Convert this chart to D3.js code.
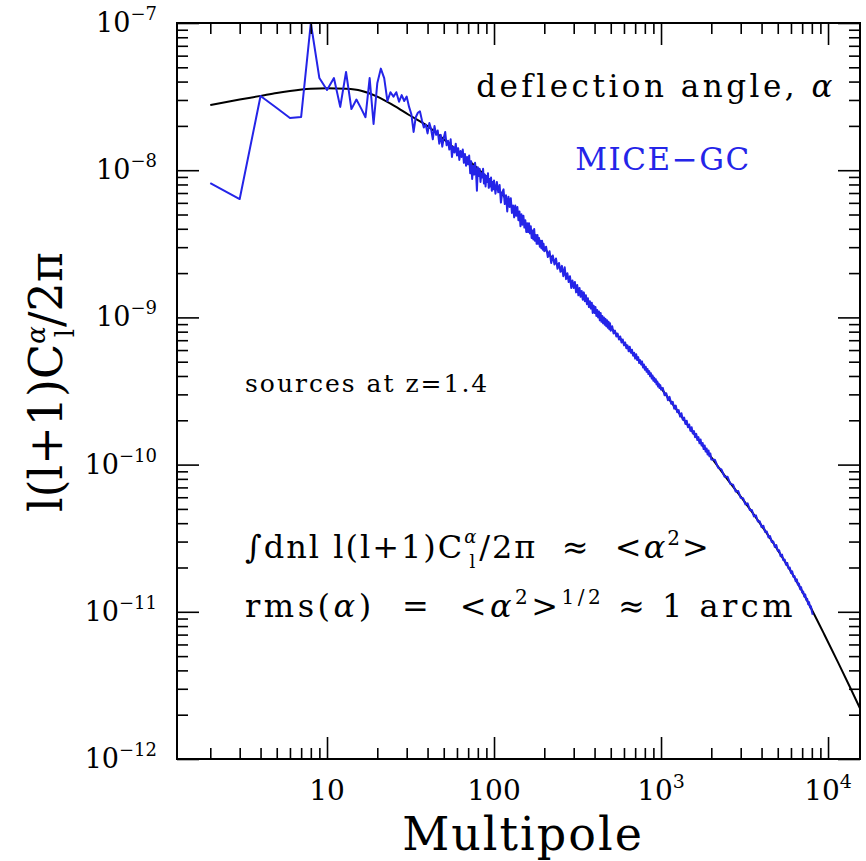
<!DOCTYPE html>
<html lang="en">
<head>
  <meta charset="UTF-8">
  <title>Deflection angle power spectrum</title>
  <script src="https://d3js.org/d3.v7.min.js"></script>
  <style>
    body { margin: 0; background: #fff; }
    svg text { font-family: "DejaVu Serif", serif; fill: #000; white-space: pre; }
    .tick line { stroke: #000; stroke-width: 1.6; }
  </style>
</head>
<body>
<svg id="chart" width="866" height="861"></svg>
<script>
  // theory curve (black), l(l+1)C_l/2pi
  const theoryEll = [2, 3, 4, 5, 6, 8, 10, 13, 16, 20,
    25, 31, 40, 50, 62, 82, 100, 125, 160, 200,
    250, 300, 400, 500, 650, 800, 1000, 1300, 1600, 2000,
    2500, 3200, 4000, 5000, 6000, 7000, 8000, 9500, 11500, 13500, 16000];
  const theoryVal = [2.773e-8, 3.020e-8, 3.199e-8, 3.350e-8, 3.451e-8, 3.573e-8, 3.606e-8, 3.573e-8, 3.467e-8, 3.162e-8,
    2.754e-8, 2.371e-8, 1.995e-8, 1.622e-8, 1.318e-8, 1.0e-8, 7.94e-9, 5.89e-9, 4.07e-9, 2.95e-9,
    2.14e-9, 1.66e-9, 1.12e-9, 8.51e-10, 6.03e-10, 4.57e-10, 3.31e-10, 2.19e-10, 1.585e-10, 1.12e-10,
    7.94e-11, 5.50e-11, 3.846e-11, 2.630e-11, 1.875e-11, 1.377e-11, 1.033e-11, 7.015e-12, 4.519e-12, 3.097e-12, 2.061e-12];

  // MICE-GC measurement (blue), stored as log10 of l(l+1)C_l/2pi
  const ellA = d3.range(2, 101);            // every multipole 2..100
  const miceA = [
    -8.087, -8.196, -7.496, -7.577, -7.645, -7.638, -7.0, -7.374, -7.455,   // 2-10
    -7.374, -7.57, -7.333, -7.585, -7.52, -7.58, -7.64, -7.374, -7.686, -7.41, // 11-20
    -7.31, -7.374, -7.53, -7.47, -7.50, -7.47, -7.535, -7.49, -7.53, -7.50,    // 21-30
    -7.57, -7.62, -7.74, -7.64, -7.61, -7.60, -7.66, -7.71, -7.69, -7.75,      // 31-40
    -7.68, -7.72, -7.79, -7.70, -7.76, -7.73, -7.82, -7.76, -7.84, -7.78,      // 41-50
    -7.74, -7.83, -7.80, -7.86, -7.79, -7.91, -7.84, -7.88, -7.82, -7.90,      // 51-60
    -7.85, -7.93, -7.87, -7.91, -7.86, -7.95, -7.89, -7.97, -7.91, -7.96,      // 61-70
    -7.90, -8.02, -7.94, -8.06, -7.97, -8.03, -7.95, -8.01, -8.14, -7.98,      // 71-80
    -8.04, -7.99, -8.08, -8.02, -8.05, -7.99, -8.09, -8.03, -8.11, -8.04,      // 81-90
    -8.08, -8.02, -8.12, -8.06, -8.11, -8.05, -8.14, -8.08, -8.13, -8.07       // 91-100
  ];
  const ellB = d3.range(102, 201, 2);
  const miceB = [
    -8.16, -8.08, -8.15, -8.10, -8.22, -8.15, -8.13, -8.23, -8.17, -8.28,
    -8.18, -8.25, -8.19, -8.29, -8.24, -8.32, -8.24, -8.31, -8.25, -8.34,
    -8.28, -8.38, -8.30, -8.37, -8.31, -8.39, -8.34, -8.42, -8.36, -8.42,
    -8.36, -8.43, -8.38, -8.46, -8.41, -8.47, -8.40, -8.48, -8.44, -8.50,
    -8.44, -8.50, -8.46, -8.52, -8.48, -8.53, -8.48, -8.54, -8.50, -8.55
  ];
  const ellC = d3.range(205, 501, 5);
  const miceC = [
    -8.52, -8.59, -8.55, -8.63, -8.58, -8.64, -8.60, -8.67, -8.63, -8.69,
    -8.65, -8.72, -8.66, -8.74, -8.70, -8.76, -8.72, -8.80, -8.75, -8.80,
    -8.76, -8.83, -8.78, -8.85, -8.80, -8.86, -8.82, -8.88, -8.83, -8.89,
    -8.85, -8.91, -8.87, -8.93, -8.89, -8.94, -8.90, -8.97, -8.92, -8.97,
    -8.93, -8.99, -8.95, -9.00, -8.96, -9.02, -8.97, -9.03, -8.99, -9.04,
    -9.00, -9.05, -9.01, -9.06, -9.02, -9.07, -9.03, -9.08, -9.04, -9.09
  ];
  const ellD = d3.range(510, 1001, 10);
  const miceD = [
    -9.06, -9.11, -9.09, -9.13, -9.11, -9.15, -9.13, -9.17, -9.15, -9.19,
    -9.17, -9.21, -9.19, -9.23, -9.20, -9.24, -9.22, -9.26, -9.24, -9.28,
    -9.25, -9.29, -9.27, -9.31, -9.29, -9.32, -9.30, -9.34, -9.32, -9.355,
    -9.335, -9.37, -9.35, -9.385, -9.365, -9.40, -9.38, -9.415, -9.395, -9.43,
    -9.41, -9.44, -9.42, -9.455, -9.435, -9.47, -9.45, -9.48, -9.46, -9.49
  ];
  const ellE = d3.range(1025, 2001, 25);
  const miceE = [
    -9.479, -9.529, -9.515, -9.563, -9.540, -9.587, -9.573, -9.620, -9.599, -9.645,
    -9.629, -9.674, -9.651, -9.695, -9.680, -9.724, -9.702, -9.746, -9.727, -9.771,
    -9.746, -9.789, -9.772, -9.814, -9.791, -9.833, -9.813, -9.855, -9.829, -9.871,
    -9.853, -9.894, -9.870, -9.911, -9.890, -9.931, -9.904, -9.944, -9.925, -9.966
  ];
  const ellF = d3.range(2100, 8101, 100);
  const miceF = [
    -9.967, -10.022, -10.032, -10.082, -10.082, -10.131, -10.136, -10.183, -10.180, -10.226,
    -10.228, -10.270, -10.263, -10.308, -10.308, -10.352, -10.345, -10.387, -10.385, -10.425,
    -10.415, -10.457, -10.454, -10.495, -10.486, -10.526, -10.522, -10.559, -10.547, -10.586,
    -10.582, -10.622, -10.611, -10.650, -10.645, -10.681, -10.668, -10.706, -10.699, -10.737,
    -10.725, -10.763, -10.757, -10.793, -10.779, -10.816, -10.809, -10.846, -10.833, -10.869,
    -10.862, -10.897, -10.882, -10.919, -10.911, -10.948, -10.934, -10.970, -10.962, -10.996,
    -11.02
  ];

  const xTickVals = [10, 100, 1000, 10000];
  const xTickBase = ["10", "100", "10", "10"];
  const xTickSup = ["", "", "3", "4"];
  const yTickVals = [1e-7, 1e-8, 1e-9, 1e-10, 1e-11, 1e-12];
  const yTickSup = ["\u22127", "\u22128", "\u22129", "\u221210", "\u221211", "\u221212"];

  const blue = "#2424e8";
  const plot = { left: 177, right: 860, top: 23, bottom: 759 };

  const svg = d3.select("#chart");
  const x = d3.scaleLog().domain([1.264, 15540]).range([plot.left, plot.right]);
  const y = d3.scaleLog().domain([1e-12, 1e-7]).range([plot.bottom, plot.top]);

  function minorTicks(lo, hi) {
    const out = [];
    for (let e = Math.floor(Math.log10(lo)); e <= Math.ceil(Math.log10(hi)); e++) {
      for (let m = 2; m <= 9; m++) {
        const v = m * Math.pow(10, e);
        if (v > lo && v < hi) out.push(v);
      }
    }
    return out;
  }

  svg.append("defs").append("clipPath").attr("id", "clip")
    .append("rect")
    .attr("x", plot.left).attr("y", plot.top)
    .attr("width", plot.right - plot.left).attr("height", plot.bottom - plot.top);

  // curves
  const theory = theoryEll.map((l, i) => ({ l, v: theoryVal[i] }));
  const mice = [];
  [[ellA, miceA], [ellB, miceB], [ellC, miceC], [ellD, miceD], [ellE, miceE], [ellF, miceF]]
    .forEach(([ls, vs]) => {
      const n = Math.min(ls.length, vs.length);
      for (let i = 0; i < n; i++) mice.push({ l: ls[i], v: Math.pow(10, vs[i]) });
    });

  const lines = svg.append("g").attr("clip-path", "url(#clip)");
  lines.append("path")
    .datum(theory)
    .attr("fill", "none")
    .attr("stroke", "#000")
    .attr("stroke-width", 2)
    .attr("d", d3.line().x(d => x(d.l)).y(d => y(d.v)).curve(d3.curveMonotoneX));
  lines.append("path")
    .datum(mice)
    .attr("fill", "none")
    .attr("stroke", blue)
    .attr("stroke-width", 2)
    .attr("stroke-linejoin", "round")
    .attr("d", d3.line().x(d => x(d.l)).y(d => y(d.v)));

  // ticks on all four sides, pointing inwards
  const xMinor = minorTicks(1.264, 15540);
  const yMinor = minorTicks(1e-12, 1e-7);
  const sides = [
    { make: d3.axisBottom, scale: x, major: xTickVals, minor: xMinor, tr: `translate(0,${plot.bottom})` },
    { make: d3.axisTop, scale: x, major: xTickVals, minor: xMinor, tr: `translate(0,${plot.top})` },
    { make: d3.axisLeft, scale: y, major: yTickVals, minor: yMinor, tr: `translate(${plot.left},0)` },
    { make: d3.axisRight, scale: y, major: yTickVals, minor: yMinor, tr: `translate(${plot.right},0)` }
  ];
  sides.forEach(s => {
    [[s.major, 22], [s.minor, 11]].forEach(([vals, len]) => {
      const g = svg.append("g").attr("transform", s.tr)
        .call(s.make(s.scale).tickValues(vals).tickSize(-len).tickSizeOuter(0).tickFormat(""));
      g.select(".domain").remove();
    });
  });

  svg.append("rect")
    .attr("x", plot.left).attr("y", plot.top)
    .attr("width", plot.right - plot.left).attr("height", plot.bottom - plot.top)
    .attr("fill", "none").attr("stroke", "#000").attr("stroke-width", 2);

  // tick labels
  xTickVals.forEach((v, i) => {
    const t = svg.append("text")
      .attr("x", x(v)).attr("y", 800)
      .attr("text-anchor", "middle")
      .style("font-size", "28px")
      .text(xTickBase[i]);
    if (xTickSup[i]) t.append("tspan").attr("dy", -12).style("font-size", "19px").text(xTickSup[i]);
  });
  yTickVals.forEach((v, i) => {
    const t = svg.append("text")
      .attr("x", 157).attr("y", y(v) + 9)
      .attr("text-anchor", "end")
      .style("font-size", "27px")
      .text("10");
    t.append("tspan").attr("dy", -12).style("font-size", "18px").text(yTickSup[i]);
  });

  // axis titles
  svg.append("text")
    .attr("x", 523).attr("y", 850)
    .attr("text-anchor", "middle")
    .style("font-size", "46px").style("letter-spacing", "2px")
    .text("Multipole");

  const yt = svg.append("text")
    .attr("transform", "translate(62,382) rotate(-90)")
    .attr("text-anchor", "middle")
    .style("font-size", "46px");
  yt.append("tspan").text("l(l+1)C");
  yt.append("tspan").attr("dy", -17).style("font-size", "26px").style("font-style", "italic").text("\u03b1");
  yt.append("tspan").attr("dx", -11).attr("dy", 29).style("font-size", "26px").text("l");
  yt.append("tspan").attr("dx", 2).attr("dy", -12).text("/2\u03c0");

  // annotations
  const t1 = svg.append("text")
    .attr("x", 836).attr("y", 97).attr("text-anchor", "end")
    .style("font-size", "31px").style("letter-spacing", "3.5px")
    .text("deflection angle, ");
  t1.append("tspan").style("font-style", "italic").text("\u03b1");

  svg.append("text")
    .attr("x", 663).attr("y", 170).attr("text-anchor", "middle")
    .style("font-size", "31px").style("letter-spacing", "1.5px").style("fill", blue)
    .text("MICE\u2212GC");

  svg.append("text")
    .attr("x", 245).attr("y", 392)
    .style("font-size", "25px").style("letter-spacing", "2px")
    .text("sources at z=1.4");

  const t3 = svg.append("text")
    .attr("x", 245).attr("y", 558)
    .style("font-size", "32px").style("letter-spacing", "2px");
  t3.append("tspan").text("\u222bdnl l(l+1)C");
  t3.append("tspan").attr("dy", -15).style("font-size", "18px").style("font-style", "italic").text("\u03b1");
  t3.append("tspan").attr("dx", -9).attr("dy", 25).style("font-size", "18px").text("l");
  t3.append("tspan").attr("dx", 2).attr("dy", -10).text("/2\u03c0  \u2248  <");
  t3.append("tspan").style("font-style", "italic").text("\u03b1");
  t3.append("tspan").attr("dy", -13).style("font-size", "20px").text("2");
  t3.append("tspan").attr("dy", 13).text(">");

  const t4 = svg.append("text")
    .attr("x", 245).attr("y", 617)
    .style("font-size", "32px").style("letter-spacing", "3.5px");
  t4.append("tspan").text("rms(");
  t4.append("tspan").style("font-style", "italic").text("\u03b1");
  t4.append("tspan").text(")  =  <");
  t4.append("tspan").style("font-style", "italic").text("\u03b1");
  t4.append("tspan").attr("dy", -13).style("font-size", "20px").text("2");
  t4.append("tspan").attr("dy", 13).text(">");
  t4.append("tspan").attr("dy", -13).style("font-size", "20px").text("1/2");
  t4.append("tspan").attr("dy", 13).text(" \u2248 1 arcm");
</script>
</body>
</html>
